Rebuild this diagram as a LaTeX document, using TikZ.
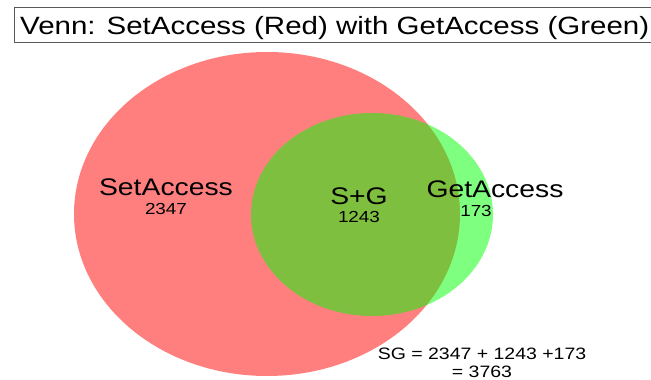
\documentclass[tikz,border=0pt]{standalone}
\usepackage{fontspec}
\setmainfont{Liberation Sans}
\newcommand{\wide}[1]{\scalebox{1.18}[1]{#1}}
\begin{document}
\begin{tikzpicture}[x=1pt,y=1pt,
  lbl/.style={anchor=base,inner sep=0pt,text=black},
  bigtxt/.style={lbl,font=\fontsize{24}{28}\selectfont},
  numtxt/.style={lbl,font=\fontsize{16}{19}\selectfont},
  sumtxt/.style={lbl,font=\fontsize{16.5}{19}\selectfont}]
\useasboundingbox (0,0) rectangle (651,380);
% title frame
\draw[draw=black!65,line width=1pt] (14.5,372) rectangle (655,337);
\node[lbl,anchor=base west,font=\fontsize{25}{30}\selectfont] (title) at (20,345)
  {\wide{Venn: SetAccess (Red) with GetAccess (Green)}};
% the two sets, half transparent
\fill[red,opacity=0.5] (267,166) ellipse [x radius=193, y radius=162];
\fill[green,opacity=0.5] (372,165.5) ellipse [x radius=121, y radius=101.5];
% region labels
\node[bigtxt] (set) at (166,184) {\wide{SetAccess}};
\node[numtxt] (setn) at (166,165) {\wide{2347}};
\node[bigtxt] (both) at (359,175) {\wide{S+G}};
\node[numtxt] (bothn) at (359,157) {\wide{1243}};
\node[bigtxt] (get) at (495,182) {\wide{GetAccess}};
\node[numtxt] (getn) at (476,163) {\wide{173}};
% total
\node[sumtxt] (sum1) at (482,20.5) {\wide{SG = 2347 + 1243 +173}};
\node[sumtxt] (sum2) at (482,2.5) {\wide{= 3763}};
\end{tikzpicture}
\end{document}
